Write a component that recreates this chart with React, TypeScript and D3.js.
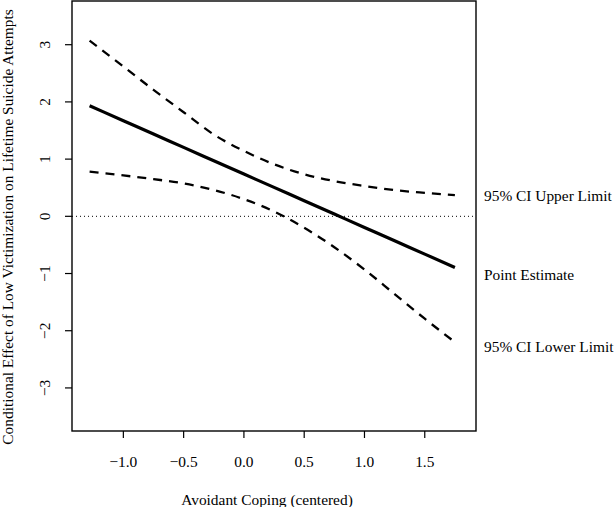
import React from "react";
import * as d3 from "d3";

const xGrid = [-1.28, -1.0, -0.75, -0.5, -0.25, 0, 0.25, 0.5, 0.75, 1.0, 1.25, 1.5, 1.75];
const pointEstimate = [1.933, 1.672, 1.439, 1.205, 0.972, 0.739, 0.506, 0.272, 0.039, -0.194, -0.427, -0.661, -0.894];
const upperLimit = [3.07, 2.62, 2.21, 1.82, 1.43, 1.143, 0.91, 0.735, 0.615, 0.53, 0.458, 0.41, 0.37];
const lowerLimit = [0.78, 0.715, 0.65, 0.575, 0.46, 0.3, 0.085, -0.2, -0.54, -0.93, -1.36, -1.79, -2.2];

const xTicks = [-1.0, -0.5, 0, 0.5, 1.0, 1.5];
const yTicks = [-3, -2, -1, 0, 1, 2, 3];

const labels = [
  { text: "95% CI Upper Limit", value: 0.37 },
  { text: "Point Estimate", value: -1.01 },
  { text: "95% CI Lower Limit", value: -2.27 },
];

const xTitle = "Avoidant Coping (centered)";
const yTitle = "Conditional Effect of Low Victimization on Lifetime Suicide Attempts";

export default function App() {
  const W = 614, H = 507;
  const left = 72, right = 476, top = 1, bottom = 431;
  const x = d3.scaleLinear().domain([-1.426, 1.925]).range([left, right]);
  const y = d3.scaleLinear().domain([-3.753, 3.764]).range([bottom, top]);
  const fx = d3.format(".1f");
  const fy = d3.format("d");
  const font = "'Liberation Serif', 'Times New Roman', serif";
  const fs = 15.4;

  const mk = (vals: number[]) =>
    d3.line<number>().x((_, i) => x(xGrid[i])).y((v) => y(v)).curve(d3.curveMonotoneX)(vals) || "";

  return (
    <svg width={W} height={H} style={{ position: "absolute", left: 0, top: 0, background: "#fff" }}>
      <g fontFamily={font} fontSize={fs} fill="#000">
        <line x1={left} x2={right} y1={y(0)} y2={y(0)} stroke="#000" strokeWidth={1} strokeDasharray="1,3" />
        <path d={mk(upperLimit)} fill="none" stroke="#000" strokeWidth={2.3} strokeDasharray="9,7" />
        <path d={mk(lowerLimit)} fill="none" stroke="#000" strokeWidth={2.3} strokeDasharray="9,7" />
        <path d={mk(pointEstimate)} fill="none" stroke="#000" strokeWidth={3.2} />
        <rect x={left} y={top} width={right - left} height={bottom - top} fill="none" stroke="#000" strokeWidth={1.4} />
        {xTicks.map((t) => (
          <g key={"x" + t}>
            <line x1={x(t)} x2={x(t)} y1={bottom} y2={bottom + 7} stroke="#000" strokeWidth={1.2} />
            <text x={x(t)} y={467} textAnchor="middle">{fx(t)}</text>
          </g>
        ))}
        {yTicks.map((t) => (
          <g key={"y" + t}>
            <line x1={left - 7} x2={left} y1={y(t)} y2={y(t)} stroke="#000" strokeWidth={1.2} />
            <text transform={`translate(50,${y(t)}) rotate(-90)`} textAnchor="middle">{fy(t)}</text>
          </g>
        ))}
        <text x={267} y={505} textAnchor="middle">{xTitle}</text>
        <text transform={`translate(13,${(top + bottom) / 2 + 11}) rotate(-90)`} textAnchor="middle">{yTitle}</text>
        {labels.map((l) => (
          <text key={l.text} x={484} y={y(l.value)} dominantBaseline="central">{l.text}</text>
        ))}
      </g>
    </svg>
  );
}
